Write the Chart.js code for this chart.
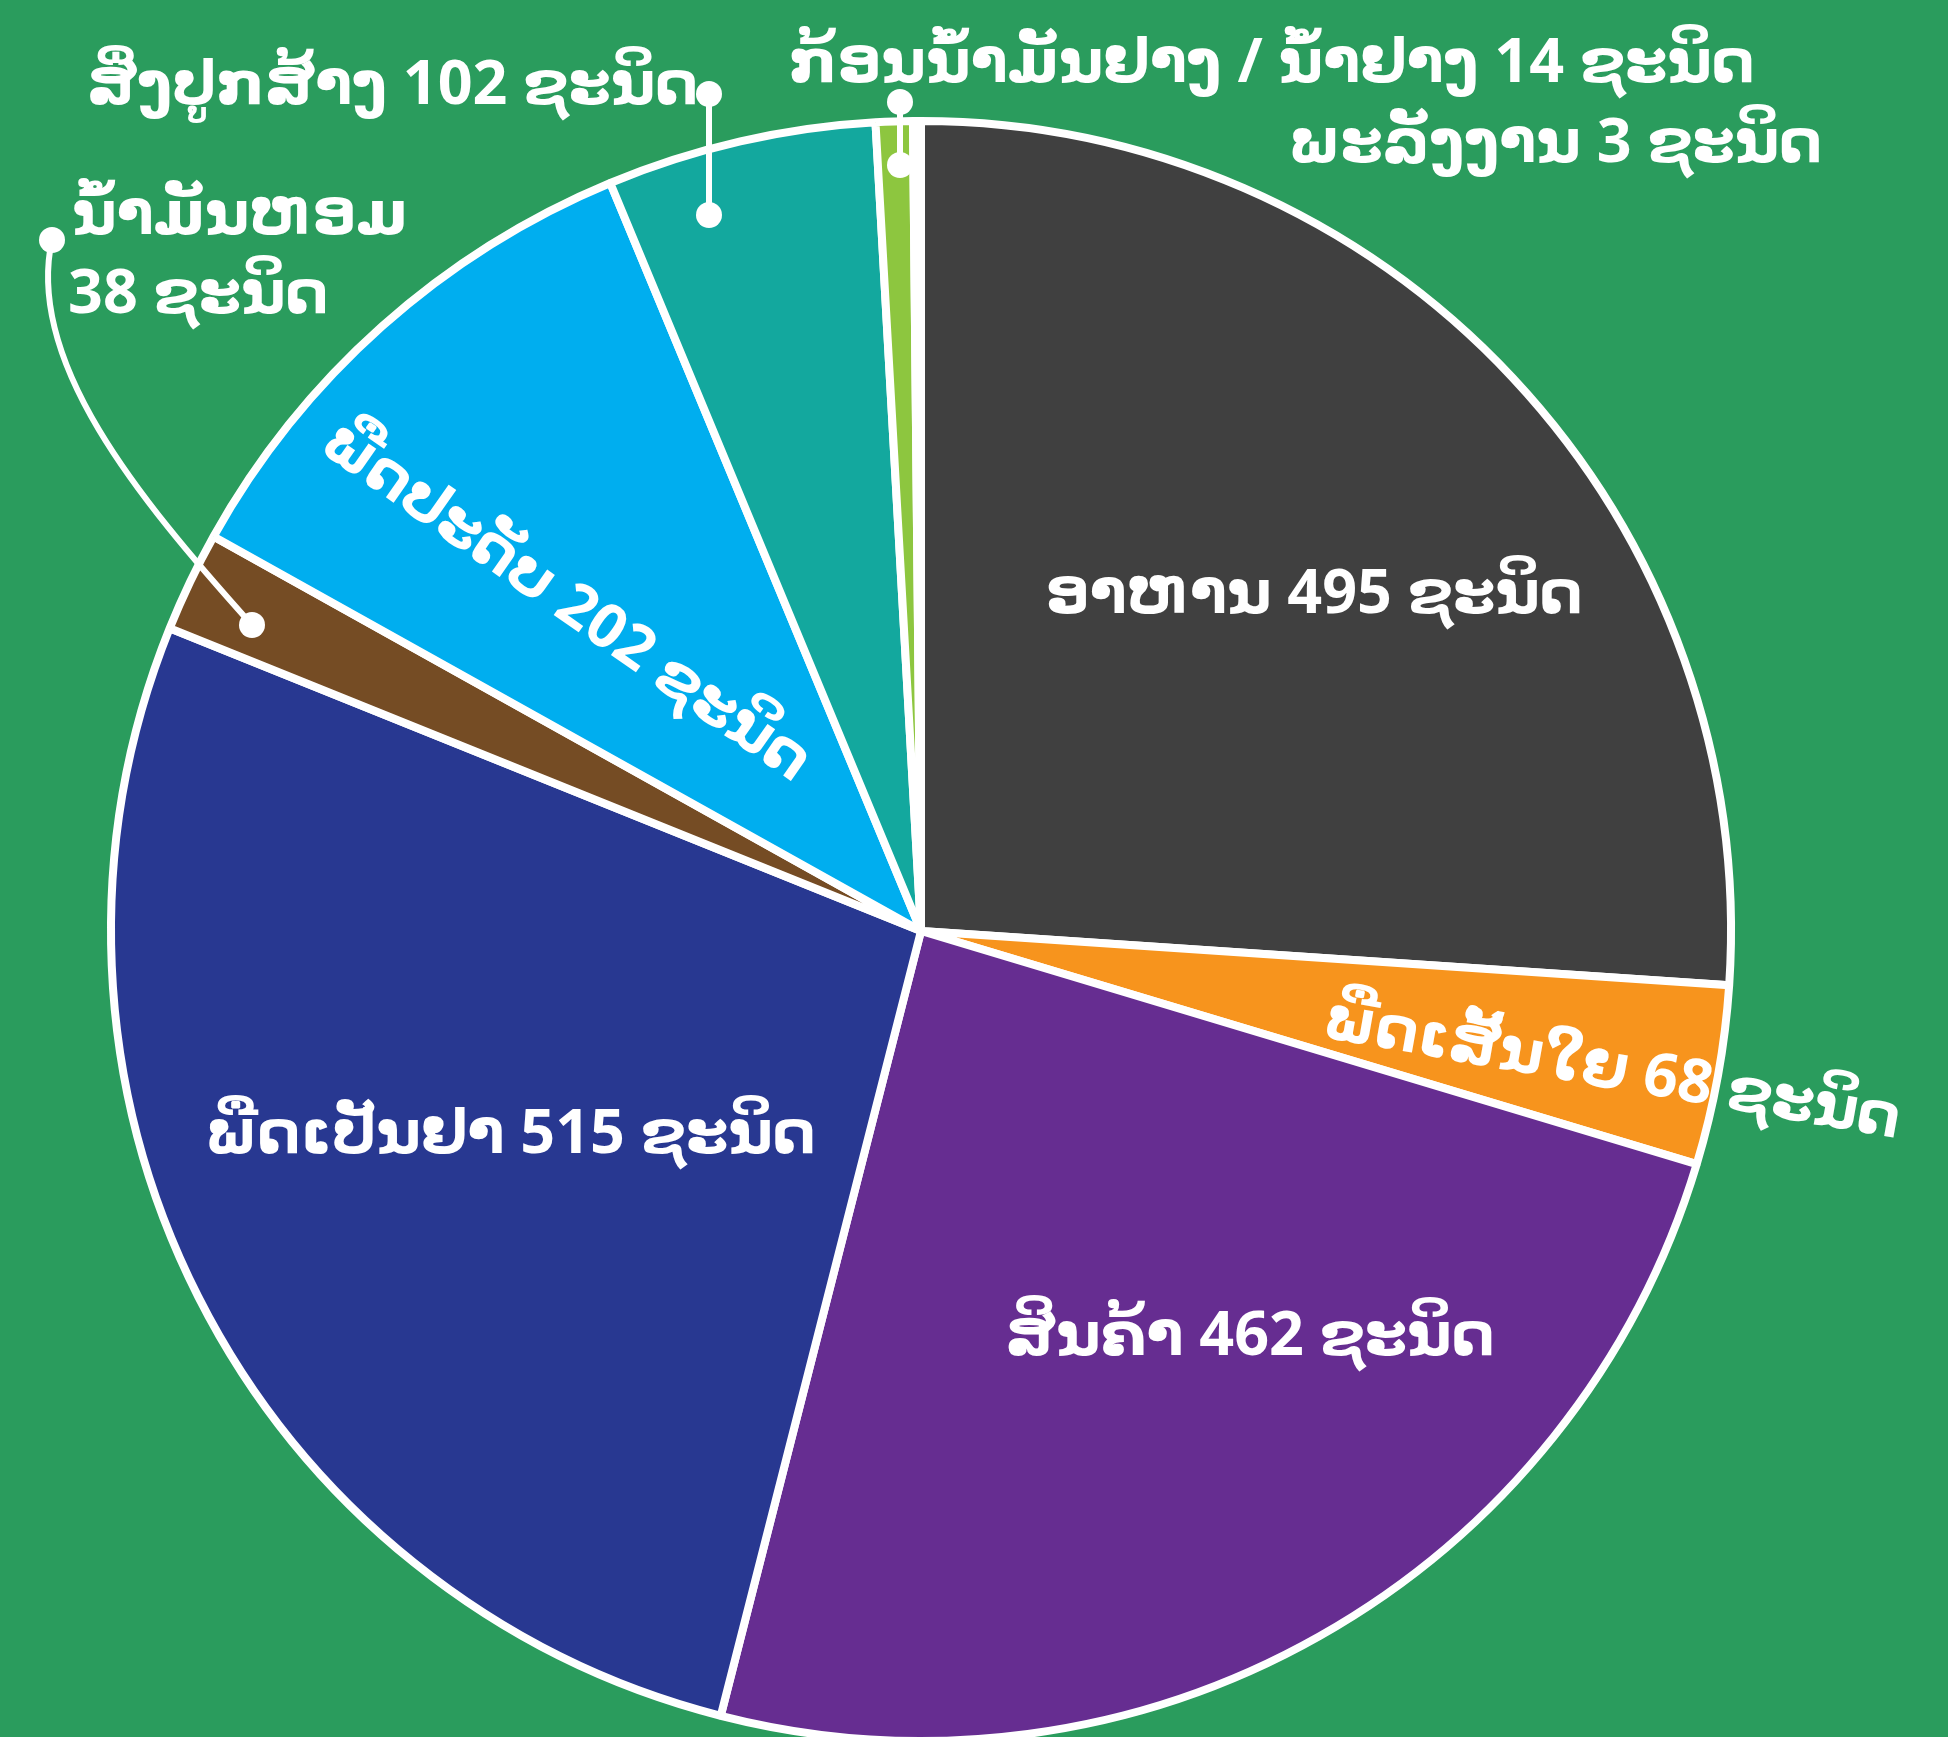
<!DOCTYPE html>
<html>
<head>
<meta charset="utf-8">
<script src="https://cdn.jsdelivr.net/npm/chart.js@4.4.0/dist/chart.umd.min.js"></script>
<style>
  html, body { margin: 0; padding: 0; background: #2a9c5d; overflow: hidden; }
  #wrap { width: 1948px; height: 1870px; }
</style>
</head>
<body>
<div id="wrap"><canvas id="pie"></canvas></div>
<script>
// plant use categories (Lao) and number of species
var categories = ['ອາຫານ', 'ພືດເສັ້ນໃຍ', 'ສິນຄ້າ', 'ພືດເປັນຢາ', 'ນ້ຳມັນຫອມ', 'ພືດປະດັບ', 'ສິ່ງປູກສ້າງ', 'ກ້ອນນ້ຳມັນຢາງ / ນ້ຳຢາງ', 'ພະລັງງານ'];
var counts = [495, 68, 462, 515, 38, 202, 102, 14, 3];
var colors = ['#404040', '#f7941d', '#662d91', '#283891', '#754c24', '#00aeef', '#13a89e', '#8dc63f', '#ffffff'];
var unit = 'ຊະນິດ';

var FONT = 'bold 61px "Open Sans", "DejaVu Sans", sans-serif';

// labels inside the pie: polar offset from centre (deg, px) and text rotation
var inside = {
  0: { a: -40.5, r: 517, rot: 0 },
  1: { a: 11.4, r: 705, rot: 10 },
  2: { a: 51, r: 523, rot: 0 },
  3: { a: 153.5, r: 459, rot: 0 },
  5: { a: -137.2, r: 484, rot: 35 }
};

function label(i) {
  return categories[i] + ' ' + counts[i] + ' ' + unit;
}

var labelPlugin = {
  id: 'labels',
  afterDraw: function(chart) {
    var ctx = chart.ctx;
    var arc = chart.getDatasetMeta(0).data[0];
    var cx = arc.x, cy = arc.y;
    ctx.save();
    ctx.fillStyle = '#ffffff';
    ctx.strokeStyle = '#ffffff';
    ctx.font = FONT;
    ctx.textBaseline = 'middle';

    Object.keys(inside).forEach(function(k) {
      var p = inside[k];
      var ang = p.a * Math.PI / 180;
      ctx.save();
      ctx.translate(cx + p.r * Math.cos(ang), cy + p.r * Math.sin(ang));
      ctx.rotate(p.rot * Math.PI / 180);
      ctx.textAlign = 'center';
      ctx.fillText(label(+k), 0, 0);
      ctx.restore();
    });

    function dot(x, y) {
      ctx.beginPath();
      ctx.arc(x, y, 13, 0, Math.PI * 2);
      ctx.fill();
    }
    ctx.lineWidth = 6;

    // construction
    ctx.textAlign = 'left';
    ctx.fillText(label(6), 87, 87);
    ctx.beginPath(); ctx.moveTo(709, 94); ctx.lineTo(709, 215); ctx.stroke();
    dot(709, 94); dot(709, 215);

    // fragrant oil
    ctx.fillText(categories[4], 72, 217);
    ctx.fillText(counts[4] + ' ' + unit, 68, 296);
    ctx.beginPath(); ctx.moveTo(52, 240);
    ctx.bezierCurveTo(25, 360, 137, 497, 252, 625); ctx.stroke();
    dot(52, 240); dot(252, 625);

    // latex
    ctx.fillText(label(7), 789, 65);
    ctx.beginPath(); ctx.moveTo(900, 102); ctx.lineTo(900, 165); ctx.stroke();
    dot(900, 102); dot(900, 165);

    // energy
    ctx.fillText(label(8), 1288, 145);
    ctx.restore();
  }
};

var ctx = document.getElementById('pie').getContext('2d');
var chart = new Chart(ctx, {
  type: 'pie',
  data: {
    labels: categories,
    datasets: [{
      data: counts,
      backgroundColor: colors,
      borderColor: '#ffffff',
      borderWidth: 8
    }]
  },
  options: {
    responsive: true,
    maintainAspectRatio: false,
    animation: false,
    radius: 810,
    layout: { padding: { left: 0, right: 106, top: 0, bottom: 8 } },
    plugins: { legend: { display: false }, tooltip: { enabled: false } }
  },
  plugins: [labelPlugin]
});
</script>
</body>
</html>
